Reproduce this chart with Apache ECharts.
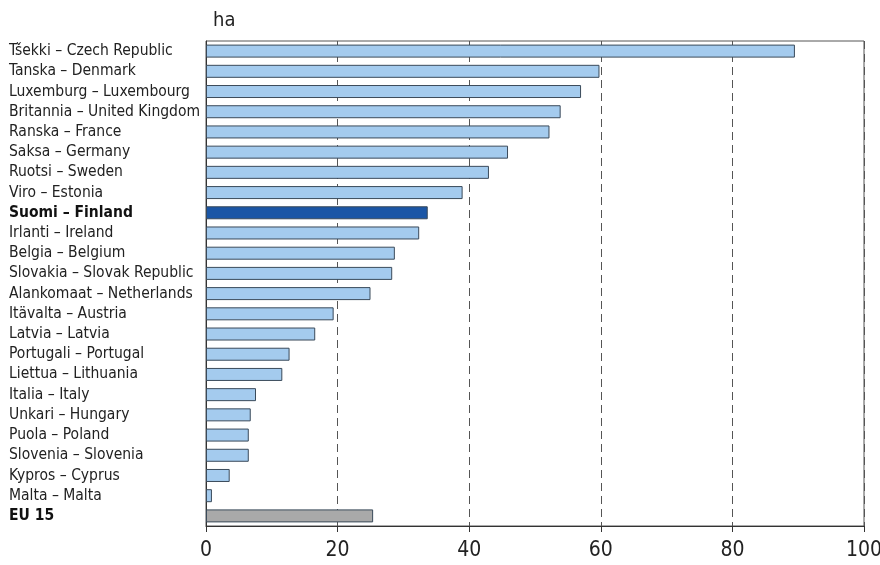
<!DOCTYPE html>
<html>
<head>
<meta charset="utf-8">
<script src="https://cdn.jsdelivr.net/npm/echarts@6/dist/echarts.min.js"></script>
<style>
  html, body { margin: 0; padding: 0; background: #fff; }
  #chart { width: 880px; height: 565px; }
</style>
</head>
<body>
<div id="chart"></div>
<script>
// Average farm size by country, hectares
const countries = [
  'Tšekki – Czech Republic', 'Tanska – Denmark', 'Luxemburg – Luxembourg',
  'Britannia – United Kingdom', 'Ranska – France', 'Saksa – Germany',
  'Ruotsi – Sweden', 'Viro – Estonia', 'Suomi – Finland', 'Irlanti – Ireland',
  'Belgia – Belgium', 'Slovakia – Slovak Republic', 'Alankomaat – Netherlands',
  'Itävalta – Austria', 'Latvia – Latvia', 'Portugali – Portugal',
  'Liettua – Lithuania', 'Italia – Italy', 'Unkari – Hungary', 'Puola – Poland',
  'Slovenia – Slovenia', 'Kypros – Cyprus', 'Malta – Malta', 'EU 15'
];
const hectares = [
  89.5, 59.8, 57.0, 53.9, 52.2, 45.9, 43.0, 39.0, 33.7, 32.4, 28.7, 28.3,
  25.0, 19.4, 16.6, 12.7, 11.6, 7.6, 6.8, 6.5, 6.5, 3.6, 0.9, 25.4
];
const xTicks = [0, 20, 40, 60, 80, 100];
const homeCountry = 'Suomi – Finland';
const average = 'EU 15';

const FONT = '"Liberation Sans Narrow", "DejaVu Sans Condensed", "Roboto", sans-serif';

function barColor(name) {
  if (name === homeCountry) return '#1b56a6';
  if (name === average) return '#a9a9a9';
  return '#a4cbee';
}

const chart = echarts.init(document.getElementById('chart'));
chart.setOption({
  animation: false,
  backgroundColor: '#fff',
  title: {
    text: 'ha',
    left: 208,
    top: 6,
    textStyle: { fontFamily: FONT, fontSize: 20, fontWeight: 'normal', color: '#222' }
  },
  grid: {
    left: 206, right: 16, top: 41, bottom: 39,
    outerBoundsMode: 'none',
    containLabel: false,
    show: true, borderColor: '#555', borderWidth: 1, backgroundColor: 'transparent'
  },
  xAxis: {
    type: 'value',
    min: xTicks[0],
    max: xTicks[xTicks.length - 1],
    interval: 20,
    axisLine: { show: true, lineStyle: { color: '#333', width: 1 } },
    axisTick: { show: true, length: 6, lineStyle: { color: '#333' } },
    axisLabel: {
      margin: 14,
      fontFamily: FONT, fontSize: 21, color: '#222',
      formatter: v => xTicks.includes(v) ? String(v) : ''
    },
    splitLine: { show: true, lineStyle: { color: '#555', type: [8, 5], width: 1 } }
  },
  yAxis: {
    type: 'category',
    data: countries,
    inverse: true,
    axisLine: { show: true, lineStyle: { color: '#333', width: 1 } },
    axisTick: { show: false },
    axisLabel: {
      interval: 0,
      align: 'left',
      margin: 197,
      hideOverlap: false,
      fontFamily: FONT, fontSize: 15.5, color: '#222',
      formatter: v => (v === homeCountry || v === average) ? '{b|' + v + '}' : v,
      rich: {
        b: { fontFamily: FONT, fontSize: 15.5, fontWeight: 'bold', color: '#111' }
      }
    }
  },
  series: [{
    type: 'bar',
    barWidth: 13,
    data: hectares.map((v, i) => ({
      value: v,
      itemStyle: { color: barColor(countries[i]) }
    })),
    itemStyle: { borderColor: '#3a4a5a', borderWidth: 1 }
  }]
});
</script>
</body>
</html>
